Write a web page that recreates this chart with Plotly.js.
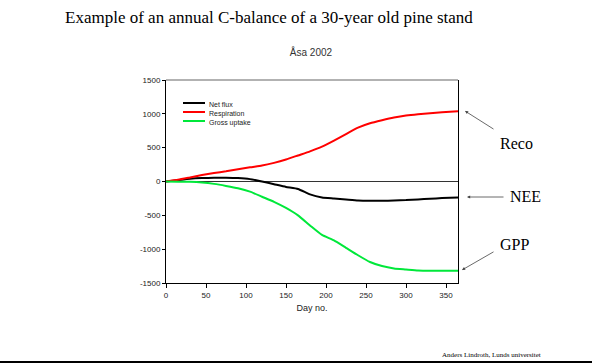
<!DOCTYPE html>
<html>
<head>
<meta charset="utf-8">
<script src="https://cdn.plot.ly/plotly-3.0.1.min.js"></script>
<style>
html,body{margin:0;padding:0;background:#fff;}
#chart{width:592px;height:364px;}
</style>
</head>
<body>
<div id="chart"></div>
<script>
// ---- data ----
const days = [0, 15, 30, 45, 60, 75, 90, 105, 120, 135, 150, 165, 180, 195, 210, 225, 240, 255, 270, 285, 300, 315, 330, 345, 365];
const netFlux = [0, 20, 40, 50, 55, 55, 50, 35, 0, -40, -80, -110, -190, -235, -250, -265, -280, -285, -285, -280, -275, -265, -255, -245, -235];
const respiration = [0, 25, 60, 95, 125, 150, 180, 210, 235, 275, 325, 385, 445, 515, 605, 700, 795, 860, 905, 945, 975, 995, 1010, 1025, 1040];
const grossUptake = [0, -3, -5, -15, -35, -65, -100, -150, -225, -300, -390, -500, -650, -790, -870, -980, -1090, -1190, -1250, -1285, -1300, -1315, -1320, -1320, -1320];
const seriesNames = ["Net flux", "Respiration", "Gross uptake"];
const seriesColors = ["#000000", "#ff0000", "#00e83a"];
const xTicks = [0, 50, 100, 150, 200, 250, 300, 350];
const yTicks = [1500, 1000, 500, 0, -500, -1000, -1500];
const yTickText = ["1500", "1000", "500", "0", "-500", "-1000", "-1500"];
const mainTitle = "Example of an annual C-balance of a 30-year old pine stand";
const chartTitle = "Åsa 2002";
const xTitle = "Day no.";
const arrowLabels = ["Reco", "NEE", "GPP"];
const credit = "Anders Lindroth, Lunds universitet";

// ---- layout helpers (pixel -> paper) ----
const L = 166, R = 458, T = 80, B = 283;
const px = x => (x - L) / (R - L);
const py = y => (B - y) / (B - T);

const seriesData = [netFlux, respiration, grossUptake];
const traces = seriesData.map((vals, i) => ({
  x: days, y: vals, type: 'scatter', mode: 'lines', name: seriesNames[i],
  line: {color: seriesColors[i], width: 2, shape: 'spline', smoothing: 0.5},
  showlegend: false, hoverinfo: 'skip'
}));

const shapes = [];
const annotations = [];

// manual compact legend: line samples + one multi-line label block
const legY = [103, 112, 121];
seriesNames.forEach((n, i) => {
  shapes.push({type: 'line', xref: 'paper', yref: 'paper', x0: px(183), x1: px(205), y0: py(legY[i]), y1: py(legY[i]),
    line: {color: seriesColors[i], width: 2}});
});
annotations.push({xref: 'paper', yref: 'paper', x: px(208), y: py(100), text: seriesNames.join('<br>'), showarrow: false,
  xanchor: 'left', yanchor: 'top', align: 'left', borderpad: 0,
  font: {family: 'Arial, Liberation Sans', size: 7, color: '#222'}});

// top frame line (grey)
shapes.push({type: 'line', xref: 'paper', yref: 'paper', x0: 0, x1: 1, y0: 1, y1: 1, line: {color: '#999', width: 1.5}});
// bottom page rule
shapes.push({type: 'line', xref: 'paper', yref: 'paper', x0: px(0), x1: px(592), y0: py(362), y1: py(362), line: {color: '#000', width: 2}});

// main title
annotations.push({xref: 'paper', yref: 'paper', x: px(63), y: py(18), text: mainTitle, showarrow: false,
  xanchor: 'left', yanchor: 'middle', font: {family: 'Liberation Serif, Times New Roman, serif', size: 17, color: '#000'}});
// credit
annotations.push({xref: 'paper', yref: 'paper', x: px(543), y: py(355), text: credit, showarrow: false,
  xanchor: 'right', yanchor: 'middle', font: {family: 'Liberation Serif, serif', size: 7, color: '#000'}});

// arrows with labels
const arrows = [
  {head: [465, 111], tail: [495, 130], text: [516, 143]},
  {head: [467, 197], tail: [505, 197], text: [525, 196]},
  {head: [462, 270], tail: [495, 251], text: [514, 244]}
];
arrows.forEach((a, i) => {
  annotations.push({xref: 'paper', yref: 'paper', x: px(a.head[0]), y: py(a.head[1]),
    ax: a.tail[0] - a.head[0], ay: a.tail[1] - a.head[1], text: '', showarrow: true,
    arrowhead: 2, arrowsize: 0.8, arrowwidth: 0.8, arrowcolor: '#444', standoff: 0, startstandoff: 0});
  annotations.push({xref: 'paper', yref: 'paper', x: px(a.text[0]), y: py(a.text[1]), text: arrowLabels[i], showarrow: false,
    xanchor: 'center', yanchor: 'middle', font: {family: 'Liberation Serif, Times New Roman, serif', size: 16, color: '#000'}});
});

const layout = {
  width: 592, height: 364,
  margin: {l: L, r: 592 - R, t: T, b: 364 - B, pad: 0},
  paper_bgcolor: '#fff', plot_bgcolor: '#fff',
  showlegend: false,
  title: {text: chartTitle, x: px(311), xref: 'paper', y: 1 - 52 / 364, yanchor: 'middle', xanchor: 'center',
    font: {family: 'Arial, Liberation Sans', size: 10, color: '#333'}},
  xaxis: {
    range: [0, 365], tickvals: xTicks, ticktext: xTicks.map(String),
    showline: true, linecolor: '#000', linewidth: 1, mirror: false,
    ticks: 'outside', ticklen: 4, tickcolor: '#000', showgrid: false, zeroline: false,
    tickfont: {family: 'Arial, Liberation Sans', size: 8, color: '#222'},
    title: {text: xTitle, standoff: 6, font: {family: 'Arial, Liberation Sans', size: 9, color: '#222'}}
  },
  yaxis: {
    range: [-1500, 1500], tickvals: yTicks, ticktext: yTickText,
    showline: true, linecolor: '#000', linewidth: 1, mirror: true,
    ticks: 'outside', ticklen: 3, tickcolor: '#000', showgrid: false,
    zeroline: true, zerolinecolor: '#333', zerolinewidth: 1,
    tickfont: {family: 'Arial, Liberation Sans', size: 8, color: '#222'}
  },
  shapes: shapes,
  annotations: annotations
};

Plotly.newPlot('chart', traces, layout, {staticPlot: true, displayModeBar: false});
</script>
</body>
</html>
